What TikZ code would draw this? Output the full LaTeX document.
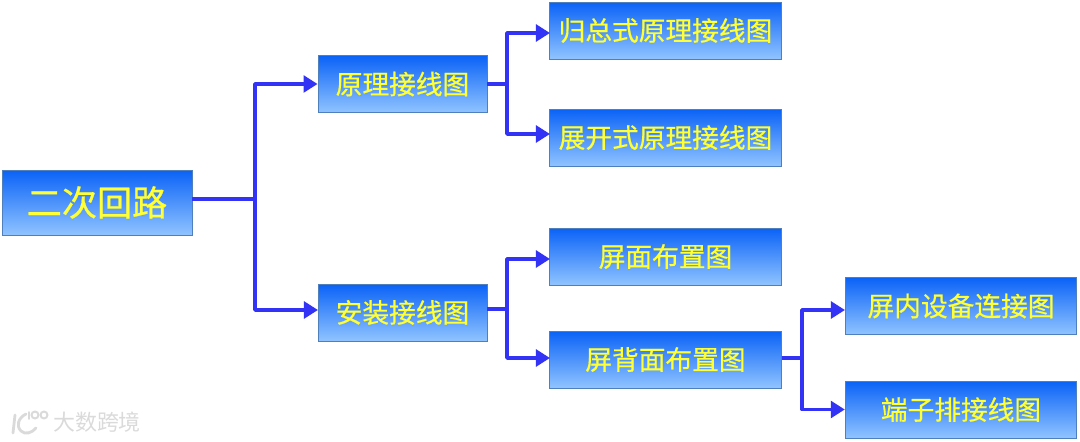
\documentclass[tikz,border=0pt]{standalone}
\usepackage{fontspec}
\setmainfont[FakeBold=0.6]{Noto Sans CJK SC}
\newfontfamily\brandfont{Noto Sans CJK SC}
\usetikzlibrary{arrows.meta}
\definecolor{BoxTop}{HTML}{0A62F6}
\definecolor{BoxBottom}{HTML}{90C4FF}
\definecolor{BoxEdge}{HTML}{4F7FBC}
\definecolor{WireBlue}{HTML}{3333F5}
\definecolor{LabelYellow}{HTML}{FFFF33}
\definecolor{BrandGray}{HTML}{DADADA}
\tikzset{
    block/.style = {draw=BoxEdge, line width=.5pt, rectangle, inner sep=0pt,
        top color=BoxTop, bottom color=BoxBottom, text=LabelYellow,
        minimum height=1.14cm,
        font=\fontsize{15.2}{18}\selectfont},
    midblock/.style = {block, minimum width=3.38cm},
    wideblock/.style = {block, minimum width=4.63cm},
    arrow/.style = {draw=WireBlue, line width=2.1pt, line join=round, -{Triangle[length=8pt,width=9.5pt]}},
    wire/.style = {draw=WireBlue, line width=2.1pt, line join=round},
    brand/.style = {text=BrandGray, font=\brandfont\fontsize{12.5}{14}\selectfont}
}
\begin{document}
\begin{tikzpicture}[x=0.02cm,y=-0.02cm]
    \useasboundingbox (0,0) rectangle (1080,442);
    % boxes
    \node [block, minimum width=3.8cm, minimum height=1.3cm, font=\fontsize{20}{24}\selectfont] (root) at (97,202.5) {二次回路};
    \node [midblock] (theory) at (402.5,84) {原理接线图};
    \node [midblock] (install) at (402.5,312.5) {安装接线图};
    \node [wideblock] (summary) at (665.5,30.5) {归总式原理接线图};
    \node [wideblock] (expand) at (665.5,137.5) {展开式原理接线图};
    \node [wideblock] (front) at (665.5,256.5) {屏面布置图};
    \node [wideblock] (back) at (665.5,359.5) {屏背面布置图};
    \node [wideblock] (inner) at (961,306) {屏内设备连接图};
    \node [wideblock] (terminal) at (961,409.5) {端子排接线图};
    % junctions
    \coordinate (jroot) at (255,199);
    \coordinate (jtheory) at (507,84);
    \coordinate (jinstall) at (507,309);
    \coordinate (jback) at (802,358);
    \coordinate (ininner) at (845,310);
    \coordinate (ininstall) at (318,310);
    \coordinate (infront) at (550,259);
    \coordinate (inback) at (550,358);
    \coordinate (insummary) at (550,33);
    \coordinate (inexpand) at (550,134);
    % wires
    \draw [wire] (root.east |- jroot) -- (jroot);
    \draw [arrow] (jroot) |- (theory);
    \draw [arrow] (jroot) |- (ininstall);
    \draw [wire] (theory) -- (jtheory);
    \draw [arrow] (jtheory) |- (insummary);
    \draw [arrow] (jtheory) |- (inexpand);
    \draw [wire] (install.east |- jinstall) -- (jinstall);
    \draw [arrow] (jinstall) |- (infront);
    \draw [arrow] (jinstall) |- (inback);
    \draw [wire] (back.east |- jback) -- (jback);
    \draw [arrow] (jback) |- (ininner);
    \draw [arrow] (jback) |- (terminal);
    % watermark
    \node [brand] (brandtext) at (97,422) {大数跨境};
    \draw [BrandGray, line width=1.6pt, line cap=round] (15,415) -- (13,433);
    \draw [BrandGray, line width=1.6pt, line cap=round] (26,414) .. controls (18,418) and (16,426) .. (21,431) .. controls (25,435) and (32,433) .. (36,428);
    \draw [BrandGray, line width=1.1pt, line cap=round] (29,412) -- (29,419);
    \draw [BrandGray, line width=1.1pt] (35,415) circle (3.5);
    \draw [BrandGray, line width=1.1pt] (44,415) circle (3.5);
\end{tikzpicture}
\end{document}
